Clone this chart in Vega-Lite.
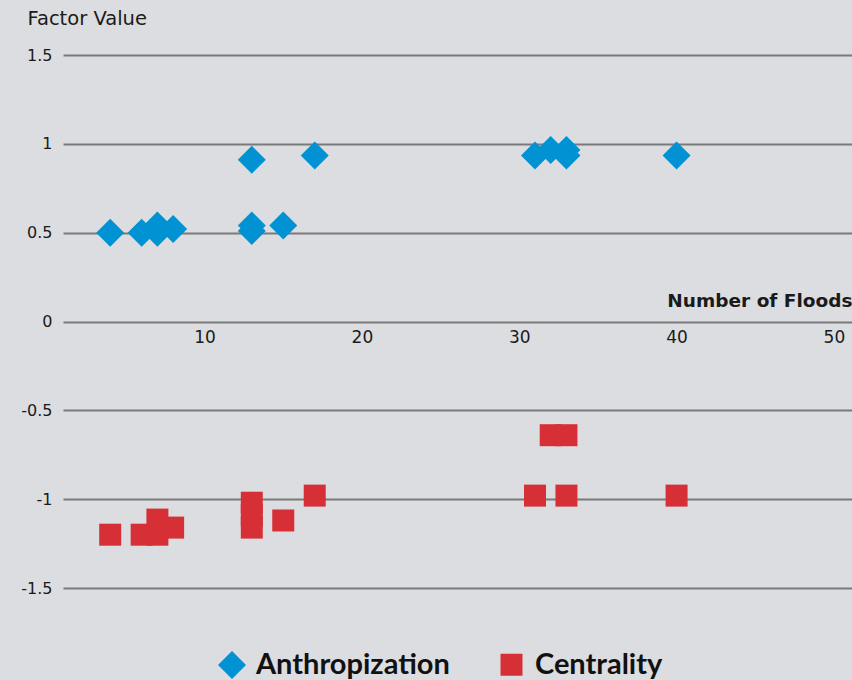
{
  "$schema": "https://vega.github.io/schema/vega-lite/v6.json",
  "width": 789,
  "height": 533,
  "autosize": "none",
  "padding": {"left": 63, "top": 55, "right": 0, "bottom": 92},
  "background": "#dcdde0",
  "config": {
    "view": {"stroke": null},
    "font": "DejaVu Sans",
    "axis": {"labelFont": "DejaVu Sans", "titleFont": "DejaVu Sans"},
    "legend": {"labelFont": "Lato"}
  },
  "data": {
    "values": [
      {"floods": 4, "value": 0.5, "series": "Anthropization"},
      {"floods": 6, "value": 0.5, "series": "Anthropization"},
      {"floods": 7, "value": 0.54, "series": "Anthropization"},
      {"floods": 7, "value": 0.5, "series": "Anthropization"},
      {"floods": 8, "value": 0.52, "series": "Anthropization"},
      {"floods": 13, "value": 0.91, "series": "Anthropization"},
      {"floods": 13, "value": 0.54, "series": "Anthropization"},
      {"floods": 13, "value": 0.51, "series": "Anthropization"},
      {"floods": 15, "value": 0.54, "series": "Anthropization"},
      {"floods": 17, "value": 0.935, "series": "Anthropization"},
      {"floods": 31, "value": 0.935, "series": "Anthropization"},
      {"floods": 32, "value": 0.965, "series": "Anthropization"},
      {"floods": 33, "value": 0.965, "series": "Anthropization"},
      {"floods": 33, "value": 0.935, "series": "Anthropization"},
      {"floods": 40, "value": 0.935, "series": "Anthropization"},
      {"floods": 4, "value": -1.2, "series": "Centrality"},
      {"floods": 6, "value": -1.2, "series": "Centrality"},
      {"floods": 7, "value": -1.115, "series": "Centrality"},
      {"floods": 7, "value": -1.2, "series": "Centrality"},
      {"floods": 8, "value": -1.16, "series": "Centrality"},
      {"floods": 13, "value": -1.02, "series": "Centrality"},
      {"floods": 13, "value": -1.09, "series": "Centrality"},
      {"floods": 13, "value": -1.16, "series": "Centrality"},
      {"floods": 15, "value": -1.12, "series": "Centrality"},
      {"floods": 17, "value": -0.98, "series": "Centrality"},
      {"floods": 31, "value": -0.98, "series": "Centrality"},
      {"floods": 32, "value": -0.64, "series": "Centrality"},
      {"floods": 33, "value": -0.64, "series": "Centrality"},
      {"floods": 33, "value": -0.98, "series": "Centrality"},
      {"floods": 40, "value": -0.98, "series": "Centrality"}
    ]
  },
  "mark": {"type": "point", "filled": true, "opacity": 1},
  "encoding": {
    "x": {
      "field": "floods",
      "type": "quantitative",
      "scale": {"domain": [1, 51.15], "nice": false, "zero": false},
      "axis": {
        "values": [10, 20, 30, 40, 50],
        "offset": -266.5,
        "domain": false,
        "ticks": false,
        "grid": false,
        "labelPadding": 8,
        "labelFontSize": 17,
        "labelColor": "#1a1a1a",
        "labelDx": 3,
        "title": "Number of Floods",
        "titleFontSize": 18.5,
        "titleFontWeight": "bold",
        "titleColor": "#1a1a1a",
        "titleAlign": "right",
        "titleAnchor": "end",
        "titleBaseline": "middle",
        "titleX": 789,
        "titleY": -21
      }
    },
    "y": {
      "field": "value",
      "type": "quantitative",
      "scale": {"domain": [-1.5, 1.5], "nice": false},
      "axis": {
        "values": [-1.5, -1, -0.5, 0, 0.5, 1, 1.5],
        "labelExpr": "'' + datum.value",
        "domain": false,
        "ticks": false,
        "grid": true,
        "gridColor": "#7a7a7a",
        "gridWidth": 2,
        "gridOpacity": 1,
        "labelPadding": 11,
        "labelFontSize": 16,
        "labelColor": "#1a1a1a",
        "title": "Factor Value",
        "titleAngle": 0,
        "titleFontSize": 19.5,
        "titleFontWeight": "normal",
        "titleColor": "#1a1a1a",
        "titleAlign": "left",
        "titleBaseline": "middle",
        "titleX": -36,
        "titleY": -37
      }
    },
    "color": {
      "field": "series",
      "type": "nominal",
      "scale": {"domain": ["Anthropization", "Centrality"], "range": ["#0092d3", "#d63036"]},
      "legend": {
        "title": null,
        "orient": "none",
        "direction": "horizontal",
        "legendX": 154,
        "legendY": 595,
        "labelFontSize": 29,
        "labelFontWeight": "bold",
        "labelColor": "#111111",
        "labelLimit": 400,
        "labelOffset": 9,
        "columnPadding": 47
      }
    },
    "shape": {
      "field": "series",
      "type": "nominal",
      "scale": {"domain": ["Anthropization", "Centrality"], "range": ["diamond", "square"]}
    },
    "size": {
      "field": "series",
      "type": "nominal",
      "scale": {"domain": ["Anthropization", "Centrality"], "range": [784, 484]}
    }
  }
}
